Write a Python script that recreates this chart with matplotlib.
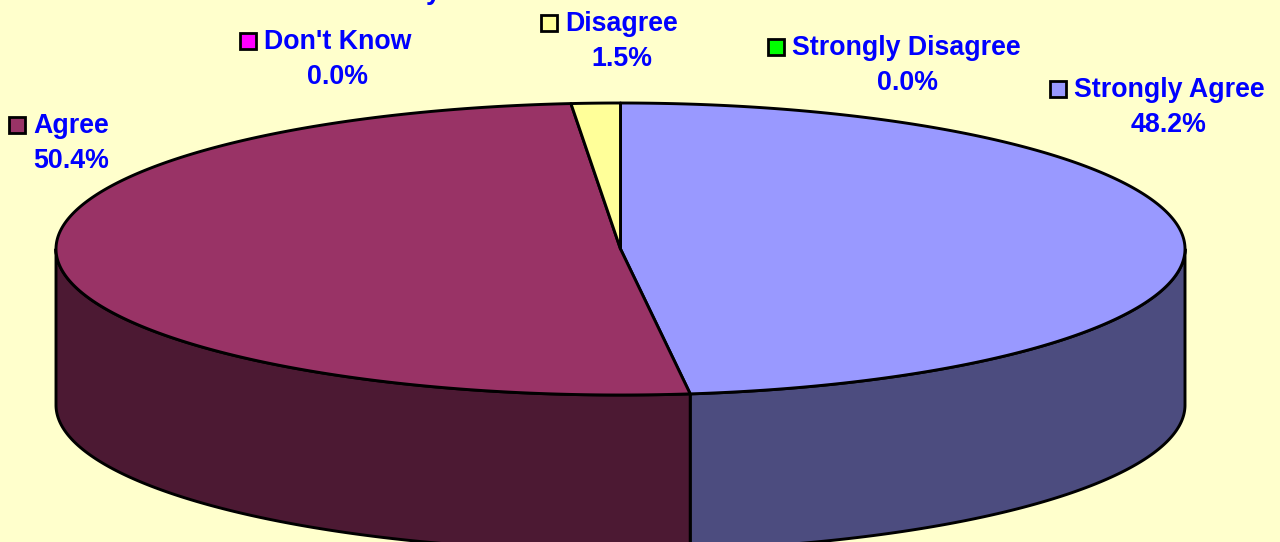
import numpy as np
import matplotlib
matplotlib.use('Agg')
import matplotlib.pyplot as plt
from matplotlib.patches import Rectangle

# === DATA ===
categories = ['Strongly Agree', 'Agree', "Don't Know", 'Disagree', 'Strongly Disagree']
values = [48.2, 50.4, 0.0, 1.5, 0.0]
value_labels = ['48.2%', '50.4%', '0.0%', '1.5%', '0.0%']

# === STYLE / LAYOUT ===
top_colors = ['#9999FF', '#993366', '#FF00FF', '#FFFF99', '#00FF00']
side_colors = ['#4C4C7F', '#4C1933', '#7F007F', '#7F7F4C', '#007F00']
bg = '#FFFFCC'
text_blue = '#0000FF'
cx, cy, rx, ry = 620.5, 249, 564.5, 146
depth = 156
persp = 3.8  # degrees, tilted pie: slices look wider at the front than at the back
lw = 2.1
font_size = 19.3
# left edge of key, centre y of first line, centre x of percent line
label_layout = [(1050, 89, 1169), (9, 125, 71), (240, 41, 338), (541, 23, 622), (768, 47, 907)]


def rim_pts(a0, a1):
    # angles are clockwise from 12 o'clock, in degrees
    t = np.radians(np.linspace(a0, a1, 300))
    return cx + rx * np.sin(t), cy - ry * np.cos(t)


fig = plt.figure(figsize=(12.8, 5.42), dpi=100, facecolor=bg)
ax = fig.add_axes([0, 0, 1, 1])
ax.set_xlim(0, 1280)
ax.set_ylim(542, 0)
ax.axis('off')

angles = np.cumsum([0] + values) / sum(values) * 360
angles = angles - persp * np.sin(np.radians(angles))

# side walls, only the front half of the rim shows
for i in range(len(values)):
    a0, a1 = max(angles[i], 90), min(angles[i + 1], 270)
    if a1 <= a0:
        continue
    x, y = rim_pts(a0, a1)
    ax.fill(np.r_[x, x[::-1]], np.r_[y, y[::-1] + depth], facecolor=side_colors[i],
            edgecolor='black', linewidth=lw, joinstyle='round')

# top face
for i in range(len(values)):
    if values[i] == 0:
        continue
    x, y = rim_pts(angles[i], angles[i + 1])
    ax.fill(np.r_[cx, x], np.r_[cy, y], facecolor=top_colors[i], edgecolor='black',
            linewidth=lw, joinstyle='round')

# labels with their little colour keys
for i, name in enumerate(categories):
    kx, ky, pct_x = label_layout[i]
    ax.add_patch(Rectangle((kx, ky - 8), 16, 16, facecolor=top_colors[i], edgecolor='black',
                           linewidth=2.0, clip_on=False))
    ax.text(kx + 24, ky + 1, name, color=text_blue, fontsize=font_size, fontweight='bold',
            family='Liberation Sans', ha='left', va='center')
    ax.text(pct_x, ky + 36, value_labels[i], color=text_blue, fontsize=font_size, fontweight='bold',
            family='Liberation Sans', ha='center', va='center')

# bit of the title that is cut off by the top edge
ax.text(433, -8, 'y', color=text_blue, fontsize=font_size, fontweight='bold',
        family='Liberation Sans', ha='center', va='center', clip_on=True)

fig.savefig('out.png', dpi=100, facecolor=bg)
